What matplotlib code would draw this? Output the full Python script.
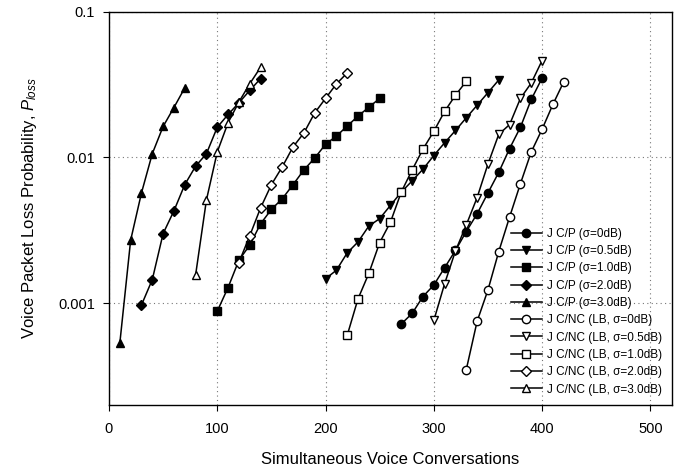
import numpy as np
import matplotlib
matplotlib.use('Agg')
import matplotlib.pyplot as plt
from matplotlib.ticker import FixedLocator, FixedFormatter, NullLocator

plt.rcParams['font.family'] = ['Liberation Sans', 'DejaVu Sans']
plt.rcParams['mathtext.fontset'] = 'custom'
plt.rcParams['mathtext.rm'] = 'Liberation Sans'
plt.rcParams['mathtext.it'] = 'Liberation Sans:italic'

# J C/P (filled markers)
cp_s0_x = [270, 280, 290, 300, 310, 320, 330, 340, 350, 360, 370, 380, 390, 400]
cp_s0_y = [0.00072, 0.00085, 0.00111, 0.00133, 0.00175, 0.0023, 0.0031, 0.0041,
           0.0057, 0.0079, 0.0115, 0.0161, 0.025, 0.035]

cp_s05_x = [200, 210, 220, 230, 240, 250, 260, 270, 280, 290, 300, 310, 320, 330, 340, 350, 360]
cp_s05_y = [0.00147, 0.00168, 0.00221, 0.00263, 0.00338, 0.0038, 0.00469, 0.00578,
            0.0069, 0.0083, 0.0103, 0.0126, 0.0153, 0.0187, 0.0228, 0.0278, 0.034]

cp_s1_x = [100, 110, 120, 130, 140, 150, 160, 170, 180, 190, 200, 210, 220, 230, 240, 250]
cp_s1_y = [0.00088, 0.00128, 0.00197, 0.0025, 0.0035, 0.0044, 0.0052, 0.0065,
           0.0082, 0.0099, 0.0123, 0.0140, 0.0164, 0.0192, 0.0221, 0.0254]

cp_s2_x = [30, 40, 50, 60, 70, 80, 90, 100, 110, 120, 130, 140]
cp_s2_y = [0.00097, 0.00145, 0.0030, 0.0043, 0.0065, 0.0087, 0.0106, 0.0161,
           0.0197, 0.0237, 0.0288, 0.0347]

cp_s3_x = [10, 20, 30, 40, 50, 60, 70]
cp_s3_y = [0.00053, 0.0027, 0.0057, 0.0106, 0.0163, 0.022, 0.030]

# J C/NC (LB) (open markers)
nc_s0_x = [330, 340, 350, 360, 370, 380, 390, 400, 410, 420]
nc_s0_y = [0.00035, 0.00075, 0.00123, 0.00226, 0.0039, 0.0066, 0.0109, 0.0156, 0.0231, 0.033]

nc_s05_x = [300, 310, 320, 330, 340, 350, 360, 370, 380, 390, 400]
nc_s05_y = [0.00076, 0.00136, 0.00228, 0.00344, 0.0053, 0.009, 0.0144, 0.0168,
            0.0254, 0.0324, 0.0462]

nc_s1_x = [220, 230, 240, 250, 260, 270, 280, 290, 300, 310, 320, 330]
nc_s1_y = [0.0006, 0.00107, 0.0016, 0.0026, 0.0036, 0.0058, 0.0082, 0.0114,
           0.0151, 0.0207, 0.0267, 0.0333]

nc_s2_x = [120, 130, 140, 150, 160, 170, 180, 190, 200, 210, 220]
nc_s2_y = [0.0019, 0.0029, 0.0045, 0.0065, 0.0086, 0.0118, 0.0147, 0.0202,
           0.0254, 0.0319, 0.038]

nc_s3_x = [80, 90, 100, 110, 120, 130, 140]
nc_s3_y = [0.00156, 0.0051, 0.0109, 0.0173, 0.024, 0.032, 0.0415]

series = [
    (cp_s0_x, cp_s0_y, 'o', True, 'J C/P (\u03c3=0dB)'),
    (cp_s05_x, cp_s05_y, 'v', True, 'J C/P (\u03c3=0.5dB)'),
    (cp_s1_x, cp_s1_y, 's', True, 'J C/P (\u03c3=1.0dB)'),
    (cp_s2_x, cp_s2_y, 'D', True, 'J C/P (\u03c3=2.0dB)'),
    (cp_s3_x, cp_s3_y, '^', True, 'J C/P (\u03c3=3.0dB)'),
    (nc_s0_x, nc_s0_y, 'o', False, 'J C/NC (LB, \u03c3=0dB)'),
    (nc_s05_x, nc_s05_y, 'v', False, 'J C/NC (LB, \u03c3=0.5dB)'),
    (nc_s1_x, nc_s1_y, 's', False, 'J C/NC (LB, \u03c3=1.0dB)'),
    (nc_s2_x, nc_s2_y, 'D', False, 'J C/NC (LB, \u03c3=2.0dB)'),
    (nc_s3_x, nc_s3_y, '^', False, 'J C/NC (LB, \u03c3=3.0dB)'),
]

fig = plt.figure(figsize=(6.79, 4.73), dpi=100)
ax = fig.add_axes([0.1605, 0.1438, 0.8292, 0.8315])

for x, y, m, filled, label in series:
    ms = 5.5 if m == 'D' else 6
    ax.plot(x, y, color='black', lw=1.1, marker=m, markersize=ms,
            markerfacecolor='black' if filled else 'white',
            markeredgecolor='black', markeredgewidth=1.0, label=label)

ax.set_yscale('log')
ax.set_xlim(0, 520)
ax.set_ylim(0.0002, 0.1)

ax.xaxis.set_major_locator(FixedLocator([0, 100, 200, 300, 400, 500]))
ax.yaxis.set_major_locator(FixedLocator([0.001, 0.01, 0.1]))
ax.yaxis.set_major_formatter(FixedFormatter(['0.001', '0.01', '0.1']))
ax.yaxis.set_minor_locator(NullLocator())

ax.tick_params(axis='both', which='major', labelsize=10.5, direction='out', length=4)
ax.tick_params(axis='x', pad=8)
ax.tick_params(axis='y', pad=6)

ax.grid(True, which='major', linestyle=(0, (1, 3)), color='#777777', linewidth=0.8)

for s in ax.spines.values():
    s.set_linewidth(1.0)

ax.set_xlabel('Simultaneous Voice Conversations', fontsize=12, labelpad=12)
ax.set_ylabel(r'Voice Packet Loss Probability, $\mathit{P}_{\mathit{loss}}$', fontsize=12, labelpad=14)

leg = ax.legend(loc='lower right', fontsize=8.5, frameon=False, handlelength=2.6,
                labelspacing=0.45, handletextpad=0.5, borderaxespad=0.4)

fig.savefig('out.png', dpi=100)
